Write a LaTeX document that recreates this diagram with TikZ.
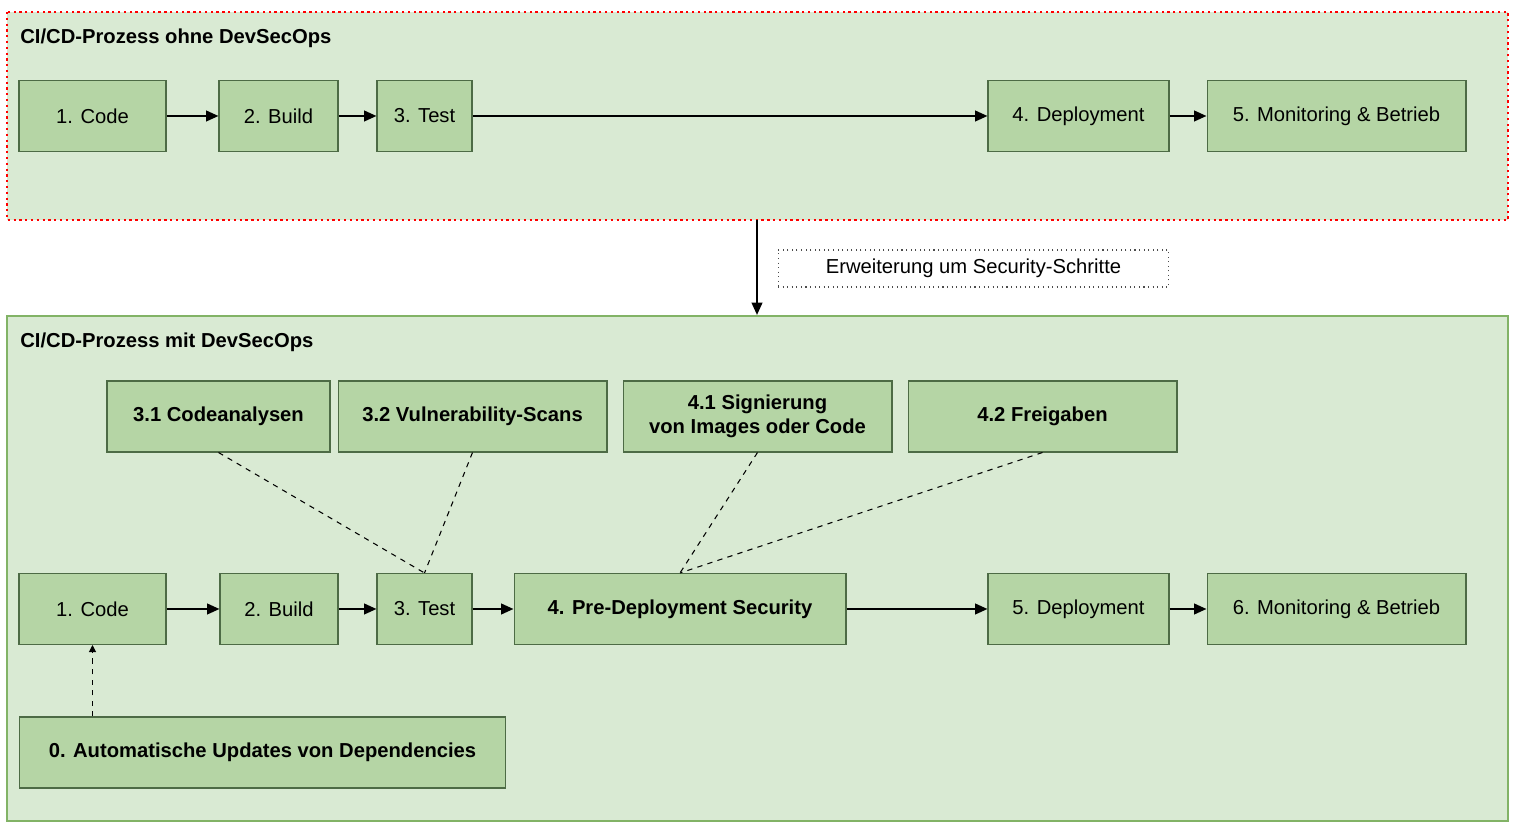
\documentclass[tikz,border=0pt]{standalone}
\usepackage{fontspec}
\setmainfont{Liberation Sans}
\usetikzlibrary{arrows.meta}
\definecolor{bgfill}{HTML}{D9EAD3}
\definecolor{boxfill}{HTML}{B5D5A5}
\definecolor{boxline}{HTML}{4D6B45}
\definecolor{frameline}{HTML}{82B366}
\begin{document}
\begin{tikzpicture}[x=0.02cm,y=-0.02cm,
  every node/.style={font=\fontsize{11.5}{14}\selectfont, inner sep=0pt},
  box/.style={draw=boxline, fill=boxfill, line width=0.6pt, minimum height=1.42cm, align=center},
  bbox/.style={box, font=\fontsize{11.5}{14}\selectfont\bfseries},
  flow/.style={line width=1.2pt, -{Triangle[length=7pt,width=6pt]}},
  link/.style={dashed, line width=0.6pt}]
\useasboundingbox (0,0) rectangle (1516,830);
% frames
\draw[red, dotted, line width=1.3pt, fill=bgfill] (7,12) rectangle (1508,220);
\draw[frameline, line width=1.3pt, fill=bgfill] (7,316) rectangle (1508,821);
\node[anchor=west, font=\fontsize{11.5}{14}\selectfont\bfseries] (t1) at (20,38) {CI/CD-Prozess ohne DevSecOps};
\node[anchor=west, font=\fontsize{11.5}{14}\selectfont\bfseries] (t2) at (20,342) {CI/CD-Prozess mit DevSecOps};
% ohne
\node[box, minimum width=2.94cm] (c1) at (92.5,116) {1. Code};
\node[box, minimum width=2.38cm] (b1) at (278.5,116) {2. Build};
\node[box, minimum width=1.90cm] (te1) at (424.5,116) {3. Test};
\node[box, minimum width=3.62cm] (d1) at (1078.5,116) {4. Deployment};
\node[box, minimum width=5.18cm] (m1) at (1336.5,116) {5. Monitoring \& Betrieb};
\draw[flow] (c1) -- (b1);
\draw[flow] (b1) -- (te1);
\draw[flow] (te1) -- (d1);
\draw[flow] (d1) -- (m1);
% transition
\coordinate (s1) at (757,220);
\coordinate (s2) at (757,315);
\draw[flow] (s1) -- (s2);
\node[draw=black!70, dotted, line width=0.6pt, minimum width=7.82cm, minimum height=0.74cm] (ext) at (973.5,268.5) {Erweiterung um Security-Schritte};
% mit
\node[bbox, minimum width=4.46cm] (ca) at (218.5,416.5) {3.1 Codeanalysen};
\node[bbox, minimum width=5.38cm] (vs) at (472.5,416.5) {3.2 Vulnerability-Scans};
\node[bbox, minimum width=5.38cm] (sig) at (757.5,416.5) {4.1 Signierung\\von Images oder Code};
\node[bbox, minimum width=5.38cm] (fr) at (1042.5,416.5) {4.2 Freigaben};
\node[box, minimum width=2.94cm] (c2) at (92.5,609) {1. Code};
\node[box, minimum width=2.36cm] (b2) at (279,609) {2. Build};
\node[box, minimum width=1.90cm] (te2) at (424.5,609) {3. Test};
\node[bbox, minimum width=6.64cm] (pre) at (680,609) {4. Pre-Deployment Security};
\node[box, minimum width=3.62cm] (d2) at (1078.5,609) {5. Deployment};
\node[box, minimum width=5.18cm] (m2) at (1336.5,609) {6. Monitoring \& Betrieb};
\node[bbox, minimum width=9.74cm] (upd) at (262.5,752.5) {0. Automatische Updates von Dependencies};
\draw[flow] (c2) -- (b2);
\draw[flow] (b2) -- (te2);
\draw[flow] (te2) -- (pre);
\draw[flow] (pre) -- (d2);
\draw[flow] (d2) -- (m2);
\draw[link] (ca.south) -- (te2.north);
\draw[link] (vs.south) -- (te2.north);
\draw[link] (sig.south) -- (pre.north);
\draw[link] (fr.south) -- (pre.north);
\draw[link, -{Triangle[length=4pt,width=4pt]}] (upd.north -| c2.south) -- (c2.south);
\end{tikzpicture}
\end{document}
